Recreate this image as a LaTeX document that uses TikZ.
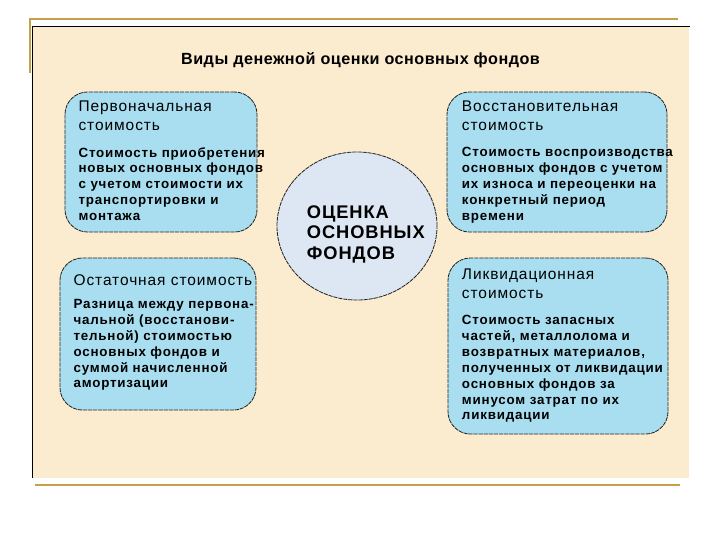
\documentclass[tikz,border=0pt]{standalone}
\usepackage{fontspec}
\setmainfont{Liberation Sans}
\newfontfamily\slidefont[LetterSpace=6]{Liberation Sans}
\newfontfamily\titlefont[LetterSpace=3]{Liberation Sans}
\newfontfamily\hubfont[LetterSpace=5]{Liberation Sans}
\usepackage{xcolor}
\usepackage{tikz}
\usetikzlibrary{positioning,shapes.geometric}
\definecolor{cardblue}{RGB}{168,222,240}
\definecolor{hubblue}{RGB}{221,231,243}
\definecolor{paper}{RGB}{252,236,207}
\definecolor{goldline}{RGB}{196,160,72}

\begin{document}
\begin{tikzpicture}[x=0.025cm, y=-0.025cm,
  card/.style={draw=black!85, dash pattern=on 3pt off 0.6pt, line width=0.6pt,
    rounded corners=16pt, fill=cardblue, inner sep=0pt},
  hub/.style={ellipse, draw=black!85, dash pattern=on 3pt off 0.6pt,
    line width=0.6pt, fill=hubblue, inner sep=0pt},
  cardhead/.style={anchor=north west, inner sep=0pt, align=left,
    font=\slidefont\fontsize{11}{13.5}\selectfont},
  cardbody/.style={anchor=north west, inner sep=0pt, align=left,
    font=\slidefont\bfseries\fontsize{9.5}{11.3}\selectfont},
  hubtext/.style={anchor=north west, inner sep=0pt, align=left,
    font=\hubfont\bfseries\fontsize{13}{14.7}\selectfont},
  goldrule/.style={draw=goldline, line width=1.6pt}
]
\useasboundingbox (0,0) rectangle (720,540);
\fill[white] (0,0) rectangle (720,540);
\fill[paper] (32.7,26) rectangle (689,478);
\draw[black, line width=0.6pt] (32.7,478) -- (32.7,26) -- (690,26);
\draw[goldrule] (30,73) -- (30,19) -- (678,19);
\draw[goldrule] (35,485) -- (680,485);

\node[anchor=base, inner sep=0pt, font=\titlefont\bfseries\fontsize{11.5}{13}\selectfont]
  (title) at (360.5,64) {Виды денежной оценки основных фондов};

\node[hub, minimum width=4.0cm, minimum height=3.7cm] (hub) at (357,226) {};
\node[hubtext] (hubT) at (306.7,205) {ОЦЕНКА\\ОСНОВНЫХ\\ФОНДОВ};

\node[card, minimum width=4.8cm, minimum height=3.5cm] (perv) at (161,162) {};
\node[card, minimum width=5.5cm, minimum height=3.5cm] (vosst) at (557,162) {};
\node[card, minimum width=4.9cm, minimum height=3.8cm] (ostat) at (158,334) {};
\node[card, minimum width=5.5cm, minimum height=4.4cm] (likv) at (558,346) {};

\node[cardhead] (pervH) at (78.3,101) {Первоначальная\\стоимость};
\node[cardbody] (pervB) at (78.3,147) {Стоимость приобретения\\новых основных фондов\\с учетом стоимости их\\транспортировки и\\монтажа};

\node[cardhead] (vosstH) at (461.7,101) {Восстановительная\\стоимость};
\node[cardbody] (vosstB) at (461.7,147) {Стоимость воспроизводства\\основных фондов с учетом\\их износа и переоценки на\\конкретный период\\времени};

\node[cardhead] (ostatH) at (73.3,274) {Остаточная стоимость};
\node[cardbody] (ostatB) at (73.3,299) {Разница между первона-\\чальной (восстанови-\\тельной) стоимостью\\основных фондов и\\суммой начисленной\\амортизации};

\node[cardhead] (likvH) at (461.7,269) {Ликвидационная\\стоимость};
\node[cardbody] (likvB) at (461.7,315) {Стоимость запасных\\частей, металлолома и\\возвратных материалов,\\полученных от ликвидации\\основных фондов за\\минусом затрат по их\\ликвидации};
\end{tikzpicture}
\end{document}
